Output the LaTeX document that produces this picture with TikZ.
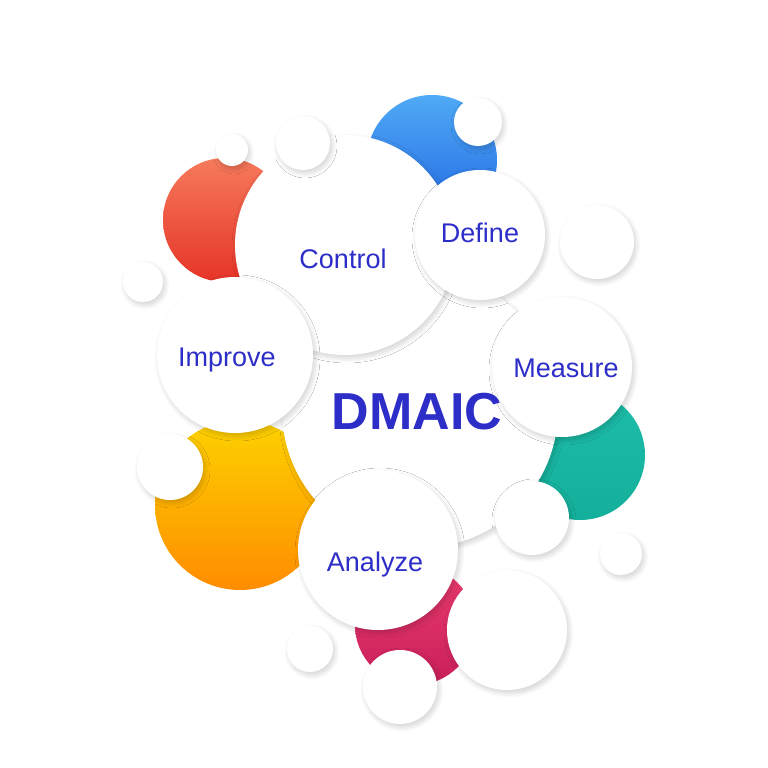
\documentclass[tikz,border=0pt]{standalone}
\usepackage{fontspec}
\setmainfont{Liberation Sans}
\usetikzlibrary{shadows.blur}
\definecolor{labelblue}{RGB}{45,45,200}
\tikzset{
	bubble/.style={circle, fill=white, inner sep=0pt, minimum size=#1,
		blur shadow={shadow xshift=2pt, shadow yshift=-3pt, shadow blur radius=5pt, shadow blur steps=10, shadow opacity=18}},
	tag/.style={text=labelblue, font=\fontsize{27}{30}\selectfont}
}
\begin{document}
\begin{tikzpicture}[x=1pt, y=-1pt]
	\useasboundingbox (0,0) rectangle (768,768);
	% coloured discs
	\shade[top color={rgb,255:red,246;green,122;blue,92}, bottom color={rgb,255:red,230;green,52;blue,40}] (225,220) circle (62);
	\shade[top color={rgb,255:red,80;green,170;blue,245}, bottom color={rgb,255:red,30;green,100;blue,225}] (432,160) circle (65);
	\shade[top color={rgb,255:red,253;green,210;blue,0}, bottom color={rgb,255:red,255;green,140;blue,0}] (240,505) circle (85);
	\shade[top color={rgb,255:red,30;green,190;blue,170}, bottom color={rgb,255:red,20;green,175;blue,155}] (580,455) circle (65);
	\shade[top color={rgb,255:red,235;green,60;blue,110}, bottom color={rgb,255:red,200;green,30;blue,90}] (415,625) circle (60);
	% main bubbles
	\node[bubble=276pt] (dmaic) at (420,410) {};
	\node[bubble=220pt] (control) at (345,245) {};
	\node[bubble=156pt] (improve) at (235,355) {};
	\node[bubble=130pt] (define) at (480,235) {};
	\node[bubble=140pt] (measure) at (562,367) {};
	\node[bubble=160pt] (analyze) at (378,550) {};
	% small bubbles
	\foreach \x/\y/\d in {232/150/32, 303/143/54, 478/122/48, 597/242/74, 143/282/40, 170/467/66,
		532/518/74, 621/554/42, 507/630/120, 310/649/46, 400/687/74}
		\node[bubble=\d pt] at (\x,\y) {};
	% labels
	\node[tag, font=\bfseries\fontsize{52}{56}\selectfont] at (417,412) {DMAIC};
	\node[tag] at (343,259) {Control};
	\node[tag] at (480,233) {Define};
	\node[tag] at (227,360) {Improve};
	\node[tag] at (566,368) {Measure};
	\node[tag] at (375,565) {Analyze};
\end{tikzpicture}
\end{document}
